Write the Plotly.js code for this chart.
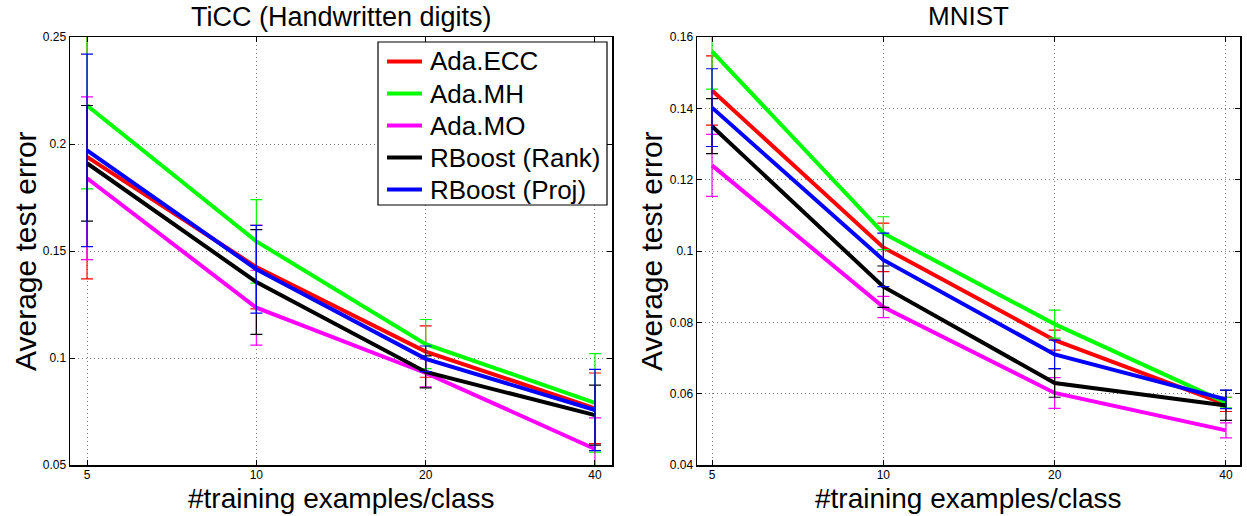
<!DOCTYPE html>
<html><head><meta charset="utf-8">
<script src="https://cdn.plot.ly/plotly-3.0.1.min.js"></script>
<style>html,body{margin:0;padding:0;background:#fff}#chart{width:1247px;height:516px}</style>
</head><body><div id="chart"></div><script>
// ---- data ----
const trainingSizes = [5, 10, 20, 40];
const seriesNames = ["Ada.ECC", "Ada.MH", "Ada.MO", "RBoost (Rank)", "RBoost (Proj)"];

// TiCC (Handwritten digits)
const ticcAdaECC = [0.194, 0.1425, 0.103, 0.0765];
const ticcAdaECCErr = [0.057, 0.0195, 0.012, 0.0165];
const ticcAdaMH = [0.218, 0.1545, 0.1065, 0.079];
const ticcAdaMHErr = [0.039, 0.0195, 0.0115, 0.023];
const ticcAdaMO = [0.184, 0.1235, 0.093, 0.0575];
const ticcAdaMOErr = [0.038, 0.0175, 0.0065, 0.0145];
const ticcRank = [0.191, 0.1355, 0.0935, 0.0733];
const ticcRankErr = [0.027, 0.0245, 0.0075, 0.014];
const ticcProj = [0.197, 0.1415, 0.0996, 0.0757];
const ticcProjErr = [0.045, 0.0205, 0.006, 0.019];

// MNIST
const mnistAdaECC = [0.145, 0.101, 0.075, 0.057];
const mnistAdaECCErr = [0.0097, 0.0068, 0.0028, 0.002];
const mnistAdaMH = [0.156, 0.105, 0.0795, 0.0575];
const mnistAdaMHErr = [0.0106, 0.0046, 0.0039, 0.0015];
const mnistAdaMO = [0.124, 0.0843, 0.0602, 0.0497];
const mnistAdaMOErr = [0.0087, 0.003, 0.0043, 0.0021];
const mnistRank = [0.135, 0.09, 0.063, 0.0567];
const mnistRankErr = [0.0077, 0.0058, 0.004, 0.0042];
const mnistProj = [0.1402, 0.0975, 0.071, 0.0584];
const mnistProjErr = [0.0109, 0.0075, 0.004, 0.0026];

const xTickVals = [5, 10, 20, 40];
const xTickText = ["5", "10", "20", "40"];
const ticcYTickVals = [0.05, 0.1, 0.15, 0.2, 0.25];
const ticcYTickText = ["0.05", "0.1", "0.15", "0.2", "0.25"];
const mnistYTickVals = [0.04, 0.06, 0.08, 0.1, 0.12, 0.14, 0.16];
const mnistYTickText = ["0.04", "0.06", "0.08", "0.1", "0.12", "0.14", "0.16"];

// ---- style ----
const colors = ["#ff0000", "#00ff00", "#ff00ff", "#000000", "#0000ff"];
const FONT = "Liberation Sans, Arial, Helvetica, sans-serif";

const ticcSeries = [[ticcAdaECC, ticcAdaECCErr], [ticcAdaMH, ticcAdaMHErr], [ticcAdaMO, ticcAdaMOErr], [ticcRank, ticcRankErr], [ticcProj, ticcProjErr]];
const mnistSeries = [[mnistAdaECC, mnistAdaECCErr], [mnistAdaMH, mnistAdaMHErr], [mnistAdaMO, mnistAdaMOErr], [mnistRank, mnistRankErr], [mnistProj, mnistProjErr]];

const traces = [];
function addTraces(series, xa, ya) {
  series.forEach((s, i) => {
    traces.push({
      type: "scatter", mode: "lines",
      x: trainingSizes, y: s[0],
      name: seriesNames[i],
      xaxis: xa, yaxis: ya,
      showlegend: false,
      line: {color: colors[i], width: 4},
      error_y: {type: "data", array: s[1], visible: true, color: colors[i], thickness: 1.2, width: 6}
    });
  });
}
addTraces(ticcSeries, "x", "y");
addTraces(mnistSeries, "x2", "y2");

function axisBase() {
  return {
    showline: true, linecolor: "#000", linewidth: 1.5, mirror: "ticks",
    ticks: "inside", ticklen: 5, tickcolor: "#000", tickwidth: 1,
    showgrid: true, gridcolor: "#777", griddash: "1px,3px", gridwidth: 1,
    zeroline: false, tickfont: {family: FONT, size: 12, color: "#000"}
  };
}

const W = 1247, H = 516;
const px = v => v / W;
const py = v => 1 - v / H;
const leftDom = [px(70), px(612)];
const rightDom = [px(697), px(1240)];
const yDom = [py(465), py(37)];

// legend drawn as a box with line samples and labels (layout only)
const legendBox = {x0: 378, y0: 42, x1: 607, y1: 205};
const legendFirstY = 61.5, legendStep = 32, legendLineX = [387, 422], legendTextX = 428;
const shapes = [{type: "rect", xref: "paper", yref: "paper", x0: px(legendBox.x0), x1: px(legendBox.x1), y0: py(legendBox.y1), y1: py(legendBox.y0), line: {color: "#000", width: 1.2}, fillcolor: "#fff", layer: "above"}];
const annotations = [];
seriesNames.forEach((name, i) => {
  const yy = legendFirstY + legendStep * i;
  shapes.push({type: "line", xref: "paper", yref: "paper", x0: px(legendLineX[0]), x1: px(legendLineX[1]), y0: py(yy), y1: py(yy), line: {color: colors[i], width: 4}, layer: "above"});
  annotations.push({text: name, xref: "paper", yref: "paper", x: px(legendTextX), y: py(yy), xanchor: "left", yanchor: "middle", showarrow: false, font: {family: FONT, size: 26, color: "#000"}});
});

annotations.push(
  {text: "TiCC (Handwritten digits)", xref: "paper", yref: "paper", x: (leftDom[0] + leftDom[1]) / 2, y: py(17), xanchor: "center", yanchor: "middle", showarrow: false, font: {family: FONT, size: 27}},
  {text: "MNIST", xref: "paper", yref: "paper", x: (rightDom[0] + rightDom[1]) / 2, y: py(16), xanchor: "center", yanchor: "middle", showarrow: false, font: {family: FONT, size: 26}},
  {text: "#training examples/class", xref: "paper", yref: "paper", x: (leftDom[0] + leftDom[1]) / 2, y: py(498), xanchor: "center", yanchor: "middle", showarrow: false, font: {family: FONT, size: 28}},
  {text: "#training examples/class", xref: "paper", yref: "paper", x: (rightDom[0] + rightDom[1]) / 2, y: py(498), xanchor: "center", yanchor: "middle", showarrow: false, font: {family: FONT, size: 28}},
  {text: "Average test error", xref: "paper", yref: "paper", x: px(25), y: (yDom[0] + yDom[1]) / 2, xanchor: "center", yanchor: "middle", textangle: -90, showarrow: false, font: {family: FONT, size: 30}},
  {text: "Average test error", xref: "paper", yref: "paper", x: px(651), y: (yDom[0] + yDom[1]) / 2, xanchor: "center", yanchor: "middle", textangle: -90, showarrow: false, font: {family: FONT, size: 30}}
);

const layout = {
  width: W, height: H,
  margin: {l: 0, r: 0, t: 0, b: 0},
  paper_bgcolor: "#fff", plot_bgcolor: "#fff",
  font: {family: FONT, color: "#000"},
  showlegend: false,
  xaxis: Object.assign(axisBase(), {type: "log", domain: leftDom, range: [0.6687, 1.6323], tickmode: "array", tickvals: xTickVals, ticktext: xTickText, anchor: "y", ticklabelstandoff: -2}),
  yaxis: Object.assign(axisBase(), {domain: yDom, range: [0.05, 0.25], tickmode: "array", tickvals: ticcYTickVals, ticktext: ticcYTickText, anchor: "x"}),
  xaxis2: Object.assign(axisBase(), {type: "log", domain: rightDom, range: [0.6726, 1.6267], tickmode: "array", tickvals: xTickVals, ticktext: xTickText, anchor: "y2", ticklabelstandoff: -2}),
  yaxis2: Object.assign(axisBase(), {domain: yDom, range: [0.04, 0.16], tickmode: "array", tickvals: mnistYTickVals, ticktext: mnistYTickText, anchor: "x2"}),
  shapes: shapes,
  annotations: annotations
};

Plotly.newPlot("chart", traces, layout, {displayModeBar: false, staticPlot: true});
</script></body></html>
